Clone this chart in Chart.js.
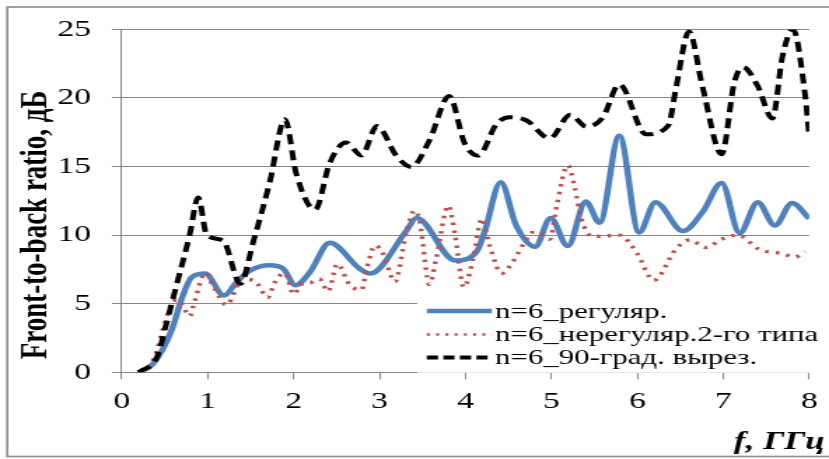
<!DOCTYPE html>
<html>
<head>
<meta charset="utf-8">
<script src="https://cdn.jsdelivr.net/npm/chart.js@4.4.1/dist/chart.umd.min.js"></script>
<style>
  html, body { margin: 0; padding: 0; background: #fff; overflow: hidden; }
  #wrap { width: 592px; height: 459px; transform: scaleX(1.40034); transform-origin: 0 0; }
</style>
</head>
<body>
<div id="wrap"><canvas id="fbChart" width="592" height="459"></canvas></div>
<script>
// Front-to-back ratio vs frequency (the original Excel picture is stretched horizontally)

// n=6_регуляр.
const regFreq = [0.2, 0.37, 0.58, 0.70, 0.81, 0.97, 1.19, 1.34, 1.49, 1.72, 1.88, 2.02, 2.19, 2.42, 2.77, 2.89, 3.31, 3.43, 3.88, 4.13, 4.22, 4.41, 4.59, 4.81, 4.99, 5.19, 5.40, 5.56, 5.79, 6.02, 6.21, 6.53, 6.76, 6.98, 7.19, 7.40, 7.60, 7.80, 8.0];
const regVals = [0, 0.65, 3.05, 5.4, 6.9, 7.2, 5.6, 6.6, 7.4, 7.8, 7.55, 6.35, 7.3, 9.45, 7.55, 7.2, 10.3, 11.25, 8.15, 8.8, 10.2, 13.85, 10.7, 9.15, 11.25, 9.2, 12.45, 10.9, 17.25, 10.2, 12.4, 10.3, 11.7, 13.8, 10.15, 12.4, 10.7, 12.35, 11.2];

// n=6_нерегуляр.2-го типа
const irrFreq = [0.2, 0.37, 0.50, 0.60, 0.66, 0.79, 0.85, 0.97, 1.07, 1.22, 1.32, 1.38, 1.55, 1.70, 1.78, 1.90, 2.0, 2.11, 2.20, 2.30, 2.40, 2.51, 2.65, 2.79, 2.85, 2.95, 3.04, 3.18, 3.31, 3.41, 3.47, 3.58, 3.66, 3.80, 3.88, 3.98, 4.09, 4.19, 4.28, 4.42, 4.55, 4.69, 4.78, 4.86, 4.98, 5.06, 5.19, 5.27, 5.35, 5.48, 5.79, 5.99, 6.19, 6.45, 6.61, 6.80, 6.98, 7.17, 7.42, 7.69, 7.83, 7.95];
const irrVals = [0, 0.93, 3.55, 5.2, 5.28, 4.1, 5.2, 7.25, 6.2, 4.9, 5.95, 6.8, 6.65, 5.45, 6.55, 7.25, 5.7, 6.5, 6.55, 6.8, 5.9, 7.9, 6.4, 6.0, 7.55, 9.25, 8.65, 6.6, 10.2, 11.8, 10.9, 6.4, 8.3, 12.15, 9.95, 6.2, 8.3, 11.2, 9.25, 7.2, 8.05, 9.5, 10.2, 10.15, 9.7, 12.1, 15.1, 13.5, 11.15, 9.9, 10.0, 8.75, 6.7, 9.0, 9.65, 9.1, 9.7, 10.0, 8.95, 8.65, 8.4, 8.8];

// n=6_90-град. вырез.
const cutFreq = [0.2, 0.41, 0.52, 0.64, 0.79, 0.89, 0.99, 1.18, 1.38, 1.53, 1.72, 1.90, 2.03, 2.25, 2.42, 2.61, 2.79, 2.97, 3.20, 3.37, 3.58, 3.81, 3.99, 4.15, 4.36, 4.51, 4.71, 4.98, 5.22, 5.41, 5.60, 5.79, 6.10, 6.36, 6.45, 6.60, 6.76, 6.98, 7.13, 7.23, 7.40, 7.57, 7.69, 7.81, 7.95, 8.0];
const cutVals = [0, 1.1, 3.55, 6.4, 10.0, 12.75, 10.0, 9.6, 6.45, 9.5, 13.8, 18.45, 14.5, 11.85, 15.25, 16.75, 15.8, 17.95, 15.75, 14.97, 16.9, 20.15, 16.7, 15.8, 18.1, 18.6, 18.36, 17.05, 18.77, 17.9, 18.6, 21.0, 17.35, 18.0, 20.75, 24.85, 20.75, 15.9, 21.2, 22.25, 20.87, 18.5, 23.1, 25.0, 20.3, 17.2];

const seriesNames = ['n=6_регуляр.', 'n=6_нерегуляр.2-го типа', 'n=6_90-град. вырез.'];
const xTicks = [0, 1, 2, 3, 4, 5, 6, 7, 8];
const yTicks = [0, 5, 10, 15, 20, 25];
const yTitle = 'Front-to-back ratio, дБ';
const xTitle = 'f, ГГц';

const SERIF = "'Liberation Serif', 'Times New Roman', serif";
const BLUE = '#4F81BD', RED = '#C0504D', BLACK = '#000000';
const GRID = '#868686';

function toPoints(xs, ys) {
    return xs.map((x, i) => ({ x: x, y: ys[i] }));
}

const styles = [
    { color: BLUE, width: 4.5, dash: [] },
    { color: RED, width: 3.4, dash: [2.5, 5.2] },
    { color: BLACK, width: 4, dash: [10, 6] }
];

const decor = {
    id: 'decor',
    beforeDraw(chart) {
        const ctx = chart.ctx;
        ctx.save();
        ctx.fillStyle = '#fff';
        ctx.fillRect(0, 0, chart.width, chart.height);
        ctx.restore();
    },
    afterDatasetsDraw(chart) {
        // legend box, sits over the lower right of the plot
        const ctx = chart.ctx;
        ctx.save();
        ctx.fillStyle = '#fff';
        ctx.fillRect(297.8, 295, 300, 77.8);
        const rows = [311, 334.5, 357.5];
        const baselines = [317.5, 340.5, 364];
        const legendDash = [[], [2.2, 4.4], [8, 3.8]];
        const legendWidth = [4.5, 2.6, 4];
        seriesNames.forEach((name, i) => {
            ctx.beginPath();
            ctx.strokeStyle = styles[i].color;
            ctx.lineWidth = legendWidth[i];
            ctx.setLineDash(legendDash[i]);
            ctx.moveTo(304.8, rows[i]);
            ctx.lineTo(351.2, rows[i]);
            ctx.stroke();
            ctx.setLineDash([]);
            ctx.fillStyle = '#000';
            ctx.font = '22px ' + SERIF;
            ctx.textAlign = 'left';
            ctx.textBaseline = 'alphabetic';
            ctx.fillText(name, 353.6, baselines[i]);
        });
        ctx.restore();
    },
    afterDraw(chart) {
        const ctx = chart.ctx;
        ctx.save();
        // outer frame
        ctx.strokeStyle = '#8a8a8a';
        ctx.lineWidth = 1.6;
        ctx.strokeRect(5.2, 7, 600, 449.5);
        // axis titles
        ctx.fillStyle = '#000';
        ctx.font = 'bold italic 25px ' + SERIF;
        ctx.textAlign = 'right';
        ctx.textBaseline = 'alphabetic';
        ctx.fillText(xTitle, 589, 449);
        ctx.translate(26.4, 225);
        ctx.rotate(-Math.PI / 2);
        ctx.font = 'bold 27px ' + SERIF;
        ctx.textAlign = 'center';
        ctx.textBaseline = 'middle';
        ctx.fillText(yTitle, 0, 0);
        ctx.restore();
    }
};

const ctx = document.getElementById('fbChart');
new Chart(ctx, {
    type: 'line',
    data: {
        datasets: [
            { label: seriesNames[0], data: toPoints(regFreq, regVals), order: 3 },
            { label: seriesNames[1], data: toPoints(irrFreq, irrVals), order: 2 },
            { label: seriesNames[2], data: toPoints(cutFreq, cutVals), order: 1 }
        ].map((ds, i) => Object.assign(ds, {
            borderColor: styles[i].color,
            backgroundColor: styles[i].color,
            borderWidth: styles[i].width,
            borderDash: styles[i].dash,
            borderCapStyle: 'butt',
            borderJoinStyle: 'round',
            pointRadius: 0,
            fill: false,
            cubicInterpolationMode: 'monotone'
        }))
    },
    options: {
        responsive: false,
        animation: false,
        devicePixelRatio: 1,
        layout: { padding: { left: 5, right: 14.1, top: 23.3, bottom: 5 } },
        plugins: {
            legend: { display: false },
            tooltip: { enabled: false }
        },
        scales: {
            x: {
                type: 'linear',
                min: 0,
                max: 8,
                afterFit(scale) { scale.height = 81.7; },
                afterBuildTicks(scale) { scale.ticks = xTicks.map(v => ({ value: v })); },
                grid: { drawOnChartArea: false, color: GRID, tickLength: 7, lineWidth: 1 },
                border: { display: true, color: GRID, width: 1 },
                ticks: { color: '#000', font: { family: SERIF, size: 24 }, padding: 8, maxRotation: 0, autoSkip: false }
            },
            y: {
                min: 0,
                max: 25,
                afterFit(scale) { scale.width = 81.9; },
                afterBuildTicks(scale) { scale.ticks = yTicks.map(v => ({ value: v })); },
                grid: { color: GRID, tickLength: 7, lineWidth: 1 },
                border: { display: true, color: GRID, width: 1 },
                ticks: { color: '#000', font: { family: SERIF, size: 24 }, padding: 15 }
            }
        }
    },
    plugins: [decor]
});
</script>
</body>
</html>
